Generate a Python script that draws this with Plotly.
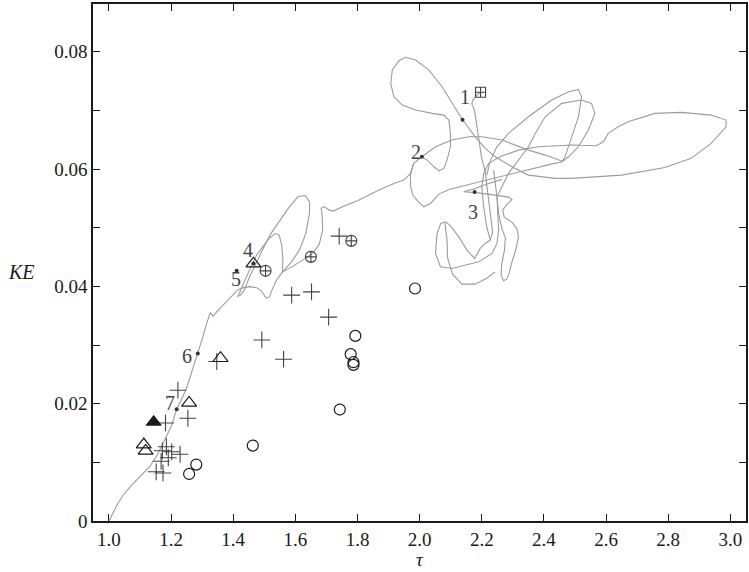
import plotly.graph_objects as go

# ---- trajectory of the run in the (tau, KE) plane, stored piece by piece ----
rise_outer = [
    (1.000, 0.0000), (1.010, 0.00114), (1.029, 0.00302), (1.048, 0.00456), (1.071, 0.00600),
    (1.099, 0.00751), (1.131, 0.00925), (1.157, 0.01138), (1.183, 0.01411), (1.202, 0.01633),
    (1.218, 0.01906), (1.237, 0.02110), (1.253, 0.02315), (1.269, 0.02571), (1.286, 0.02856),
    (1.301, 0.03117), (1.314, 0.03356), (1.326, 0.03552), (1.335, 0.03492), (1.356, 0.03620),
    (1.388, 0.03791), (1.410, 0.03919), (1.427, 0.03970), (1.452, 0.03995), (1.475, 0.03978),
    (1.491, 0.03919), (1.506, 0.03799), (1.516, 0.03816), (1.526, 0.03953), (1.539, 0.04106),
    (1.558, 0.04243), (1.587, 0.04413), (1.613, 0.04618), (1.633, 0.04891), (1.645, 0.05232),
    (1.646, 0.05437), (1.632, 0.05548), (1.609, 0.05531), (1.580, 0.05352), (1.548, 0.05096),
    (1.520, 0.04891), (1.494, 0.04618), (1.471, 0.04379), (1.452, 0.04157), (1.436, 0.03936),
    (1.420, 0.03833),
]
inner_third = [
    (1.414, 0.03815), (1.433, 0.04055), (1.455, 0.04311), (1.475, 0.04533), (1.494, 0.04669),
    (1.516, 0.04823), (1.536, 0.04900), (1.548, 0.04874), (1.556, 0.04703), (1.560, 0.04448),
    (1.558, 0.04243), (1.590, 0.04337), (1.628, 0.04465), (1.656, 0.04567), (1.677, 0.04720),
    (1.688, 0.04959), (1.686, 0.05215), (1.683, 0.05335), (1.693, 0.05360), (1.709, 0.05300),
    (1.722, 0.05283), (1.750, 0.05352), (1.805, 0.05471), (1.869, 0.05642), (1.923, 0.05766),
    (1.949, 0.05812), (1.971, 0.05927), (1.976, 0.06039), (1.981, 0.06097),
]
arc_over = [
    (1.981, 0.06097), (2.007, 0.06209), (2.051, 0.06380), (2.104, 0.06494), (2.158, 0.06550),
    (2.200, 0.06550), (2.265, 0.06494), (2.308, 0.06409), (2.350, 0.06323), (2.404, 0.06238),
    (2.457, 0.06136),
]
big_loops = [
    (2.007, 0.06209), (2.024, 0.06153), (2.046, 0.06039), (2.062, 0.05970), (2.078, 0.06011),
    (2.088, 0.06153), (2.099, 0.06380), (2.099, 0.06608), (2.094, 0.06835), (2.078, 0.06920),
    (2.040, 0.06949), (1.987, 0.07006), (1.944, 0.07091), (1.917, 0.07233), (1.907, 0.07461),
    (1.912, 0.07688), (1.933, 0.07847), (1.955, 0.07905), (1.987, 0.07859), (2.030, 0.07688),
    (2.072, 0.07403), (2.115, 0.07035), (2.138, 0.06840), (2.179, 0.06550), (2.211, 0.06352),
    (2.243, 0.06209), (2.297, 0.06039), (2.350, 0.05897), (2.436, 0.05841), (2.489, 0.05841),
    (2.650, 0.05897), (2.789, 0.06028), (2.874, 0.06182), (2.938, 0.06438), (2.986, 0.06721),
    (2.986, 0.06835), (2.938, 0.06920), (2.842, 0.06966), (2.757, 0.06949), (2.671, 0.06806),
    (2.639, 0.06721), (2.607, 0.06608), (2.591, 0.06465), (2.569, 0.06397), (2.489, 0.06409),
    (2.382, 0.06380), (2.318, 0.06323), (2.264, 0.06221), (2.222, 0.06097), (2.206, 0.05926),
    (2.200, 0.05697), (2.206, 0.05356), (2.216, 0.05015), (2.227, 0.04788), (2.211, 0.04732),
    (2.195, 0.04647), (2.177, 0.04476), (2.152, 0.04618), (2.126, 0.04844), (2.100, 0.05027),
    (2.084, 0.05100), (2.068, 0.05073), (2.056, 0.04902), (2.051, 0.04561), (2.067, 0.04333),
    (2.104, 0.04305), (2.147, 0.04362), (2.190, 0.04418), (2.233, 0.04561), (2.249, 0.04732),
    (2.254, 0.04959), (2.251, 0.05249), (2.249, 0.05527), (2.286, 0.05926), (2.350, 0.06380),
    (2.372, 0.06608), (2.404, 0.06891), (2.457, 0.07120), (2.521, 0.07176), (2.553, 0.07120),
    (2.564, 0.06949), (2.543, 0.06665), (2.511, 0.06380), (2.479, 0.06209), (2.457, 0.06119),
    (2.468, 0.06209), (2.489, 0.06550), (2.511, 0.06891), (2.521, 0.07233), (2.511, 0.07359),
    (2.479, 0.07318), (2.425, 0.07176), (2.350, 0.06891), (2.286, 0.06608), (2.248, 0.06375),
    (2.228, 0.06153), (2.216, 0.05897),
]
narrow_loop = [
    (2.142, 0.05612), (2.180, 0.05598), (2.244, 0.05556), (2.286, 0.05522), (2.297, 0.05479),
    (2.283, 0.05411), (2.267, 0.05300), (2.272, 0.05181), (2.297, 0.05095), (2.313, 0.04984),
    (2.318, 0.04839), (2.309, 0.04618), (2.296, 0.04396), (2.288, 0.04225), (2.280, 0.04123),
    (2.270, 0.04097), (2.262, 0.04191), (2.264, 0.04379), (2.273, 0.04618), (2.276, 0.04822),
    (2.264, 0.04993), (2.254, 0.05249), (2.249, 0.05522), (2.244, 0.05778), (2.238, 0.05982),
]
cusp_line = [(2.142, 0.05612), (2.179, 0.05670), (2.222, 0.05755), (2.265, 0.05824)]
left_tail = [
    (1.981, 0.06097), (1.971, 0.05931), (1.970, 0.05726), (1.978, 0.05556), (1.994, 0.05453),
    (2.013, 0.05356), (2.035, 0.05414), (2.062, 0.05573), (2.094, 0.05653), (2.136, 0.05709),
    (2.179, 0.05760), (2.222, 0.05820), (2.265, 0.05868), (2.318, 0.05940), (2.382, 0.06033),
    (2.430, 0.06093), (2.457, 0.06119),
]
end_drop = [
    (2.196, 0.07313), (2.183, 0.07253), (2.171, 0.07176), (2.168, 0.07108), (2.177, 0.06989),
    (2.183, 0.06784), (2.190, 0.06494), (2.199, 0.06204), (2.211, 0.05948), (2.219, 0.05556),
    (2.228, 0.05215), (2.235, 0.04925), (2.227, 0.04788),
]
inner_narrow = [
    (2.081, 0.05095), (2.088, 0.04788), (2.090, 0.04481), (2.106, 0.04208), (2.136, 0.04038),
    (2.179, 0.04038), (2.216, 0.04140), (2.243, 0.04247),
]
trajectory = [rise_outer, inner_third, arc_over, big_loops, narrow_loop,
              cusp_line, left_tail, end_drop, inner_narrow]

# numbered instants along the trajectory
instant_labels = ["1", "2", "3", "4", "5", "6", "7"]
instant_tau = [2.138, 2.007, 2.177, 1.465, 1.411, 1.286, 1.218]
instant_ke = [0.0684, 0.0621, 0.0561, 0.0439, 0.04265, 0.02856, 0.01906]
label_tau = [2.145, 1.987, 2.173, 1.447, 1.410, 1.250, 1.196]
label_ke = [0.07233, 0.06294, 0.05271, 0.04618, 0.04123, 0.02815, 0.02016]

# data sets
circle_tau = [1.793, 1.778, 1.787, 1.787, 1.743, 1.463, 1.281, 1.258, 1.985]
circle_ke = [0.03156, 0.02844, 0.02707, 0.02661, 0.01900, 0.01286, 0.00962, 0.00802, 0.03964]

plus_tau = [1.588, 1.652, 1.707, 1.492, 1.562, 1.347, 1.222, 1.254, 1.182, 1.741,
            1.185, 1.172, 1.202, 1.229, 1.191, 1.168, 1.152, 1.174]
plus_ke = [0.0385, 0.03906, 0.03475, 0.03087, 0.02758, 0.02719, 0.02230, 0.01752, 0.01672, 0.04856,
           0.01266, 0.01197, 0.01180, 0.01138, 0.01078, 0.01018, 0.00839, 0.00819]

oplus_tau = [1.780, 1.650, 1.504]
oplus_ke = [0.04776, 0.04503, 0.04265]

boxplus_tau = [2.196]
boxplus_ke = [0.0731]

tri_tau = [1.465, 1.359, 1.258, 1.112, 1.118]
tri_ke = [0.04388, 0.02775, 0.02013, 0.01303, 0.01194]

solid_tri_tau = [1.144]
solid_tri_ke = [0.01689]

serif = "Liberation Serif"
ink = "#1a1a1a"
grey_ink = "#444444"

fig = go.Figure()

curve_x, curve_y = [], []
for piece in trajectory:
    curve_x += [p[0] for p in piece] + [None]
    curve_y += [p[1] for p in piece] + [None]
fig.add_trace(go.Scatter(x=curve_x, y=curve_y, mode="lines",
                         line=dict(color="#9c9c9c", width=1.1), hoverinfo="skip"))

fig.add_trace(go.Scatter(x=plus_tau, y=plus_ke, mode="markers",
                         marker=dict(symbol="cross-thin-open", size=12, color=grey_ink,
                                     line=dict(color=grey_ink, width=1.1))))
fig.add_trace(go.Scatter(x=circle_tau, y=circle_ke, mode="markers",
                         marker=dict(symbol="circle-open", size=11, color=ink,
                                     line=dict(color=ink, width=1.2))))
fig.add_trace(go.Scatter(x=oplus_tau, y=oplus_ke, mode="markers",
                         marker=dict(symbol="circle-cross-open", size=11, color=grey_ink,
                                     line=dict(color=grey_ink, width=1.1))))
fig.add_trace(go.Scatter(x=boxplus_tau, y=boxplus_ke, mode="markers",
                         marker=dict(symbol="square-cross-open", size=10, color=grey_ink,
                                     line=dict(color=grey_ink, width=1.1))))
fig.add_trace(go.Scatter(x=tri_tau, y=tri_ke, mode="markers",
                         marker=dict(symbol="triangle-up-open", size=13, color=ink,
                                     line=dict(color=ink, width=1.2))))
fig.add_trace(go.Scatter(x=solid_tri_tau, y=solid_tri_ke, mode="markers",
                         marker=dict(symbol="triangle-up", size=13, color=ink,
                                     line=dict(color=ink, width=1))))
fig.add_trace(go.Scatter(x=instant_tau, y=instant_ke, mode="markers",
                         marker=dict(symbol="circle", size=4, color="#333333")))

annotations = []
for lab, lx, ly in zip(instant_labels, label_tau, label_ke):
    annotations.append(dict(x=lx, y=ly, xref="x", yref="y", text=lab, showarrow=False,
                            xanchor="center", yanchor="middle",
                            font=dict(family=serif, size=20, color="#444444")))
annotations.append(dict(x=2.0, y=-0.074, xref="x", yref="paper", text="<i>τ</i>",
                        showarrow=False, xanchor="center", yanchor="middle",
                        font=dict(family=serif, size=19, color=ink)))
annotations.append(dict(x=-0.110, y=0.482, xref="paper", yref="paper", text="<i>KE</i>",
                        showarrow=False, xanchor="center", yanchor="middle",
                        font=dict(family=serif, size=20, color=ink)))

fig.update_layout(
    width=749, height=572,
    margin=dict(l=93, r=1, t=4, b=51),
    paper_bgcolor="white", plot_bgcolor="white",
    showlegend=False,
    annotations=annotations,
)
fig.update_xaxes(
    range=[0.9487, 3.0503], tickvals=[1.0, 1.2, 1.4, 1.6, 1.8, 2.0, 2.2, 2.4, 2.6, 2.8, 3.0],
    tickformat=".1f", ticks="inside", ticklen=7, tickwidth=1.2, tickcolor=ink,
    showline=True, linecolor=ink, linewidth=1.5, mirror="ticks",
    showgrid=False, zeroline=False,
    tickfont=dict(family=serif, size=19, color=ink),
)
fig.update_yaxes(
    range=[0, 0.08814], tickvals=[0, 0.02, 0.04, 0.06, 0.08],
    ticktext=["0", "0.02", "0.04", "0.06", "0.08"],
    ticks="inside", ticklen=7, tickwidth=1.2, tickcolor=ink,
    minor=dict(tickvals=[0.01, 0.03, 0.05, 0.07], ticks="inside", ticklen=7,
               tickwidth=1.2, tickcolor=ink),
    showline=True, linecolor=ink, linewidth=1.5, mirror="ticks",
    showgrid=False, zeroline=False,
    tickfont=dict(family=serif, size=19, color=ink),
)

fig.write_html("out.html")
